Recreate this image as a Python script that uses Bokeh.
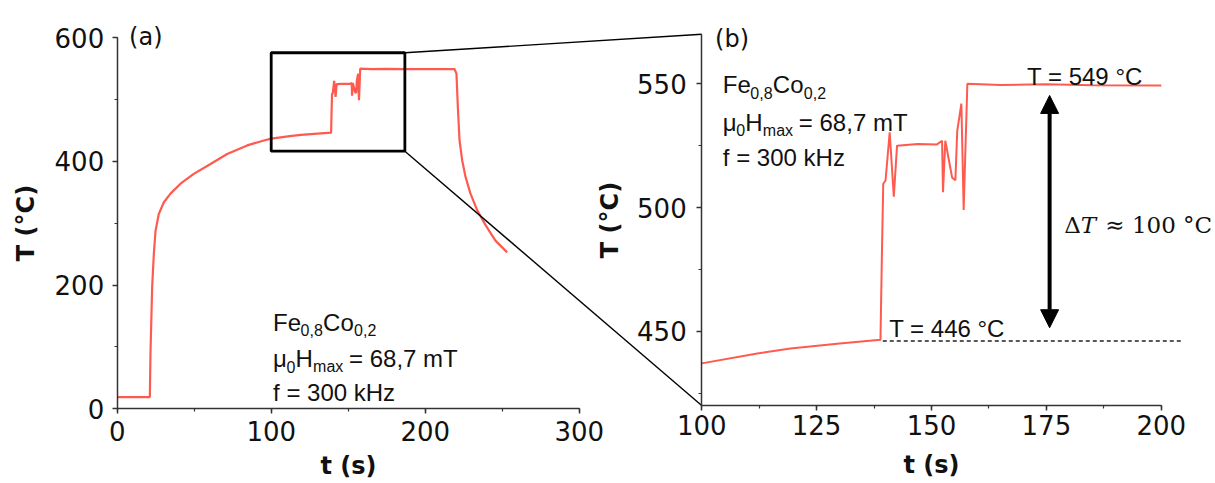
from bokeh.plotting import figure
from bokeh.models import Range1d, LinearAxis, SingleIntervalTicker, Arrow, NormalHead
from bokeh.core.properties import value
from bokeh.embed import file_html
from bokeh.resources import INLINE

# ---------------- data ----------------
time_s = [0, 21.2, 21.6, 22.7, 23.8, 24.9, 27.0, 30.3, 34.6, 41.1, 49.7, 60.6, 71.4, 84.4, 95.2,
          100, 112.1, 119.3, 130, 138.9, 139.2, 139.5, 140.0, 140.9, 141.8, 142.5, 147, 151.2,
          152.3, 152.5, 153.0, 153.8, 154.5, 155.2, 155.6, 156.5, 157.0, 157.8, 165, 175, 185, 200,
          219, 220.3, 221.2, 222.3, 224.0, 226.2, 229.4, 233.8, 239.2, 245.6, 253.2]
temp_c = [19, 19, 89, 197, 251, 288, 315, 334, 348, 364, 380, 396, 412, 426, 434,
          437, 441, 443, 445, 446.5, 480, 509.6, 510.9, 530.4, 504.4, 525, 525.7, 525.5,
          527, 506.2, 527, 519, 512, 511, 531, 542, 499, 550, 549.5, 549.8, 549.4, 549.3,
          549.5, 542, 488, 434, 402, 375, 348, 321, 297, 272, 253]
zoom_window = [100, 200]          # time window shown in panel (b)
t_low, t_high = 446, 549          # annotated temperatures
delta_label = 100                 # annotated temperature rise
x_ticks_a, y_ticks_a = 100, 200   # major tick steps, panel (a)
x_ticks_b, y_ticks_b = 25, 50     # major tick steps, panel (b)

# ---------------- styling / geometry ----------------
W, H = 1215, 483
RED = "#ff5a4f"
INK = "#111111"
AXC = "#333333"
SANS = "Liberation Sans"
WIDE = "DejaVu Sans"


def mapping(p0, v0, p1, v1):
    k = (v1 - v0) / (p1 - p0)
    return (lambda px: v0 + (px - p0) * k), (lambda v: p0 + (v - v0) / k)


ax_v, ax_p = mapping(116.7, 0, 578.7, 300)
ay_v, ay_p = mapping(408.3, 0, 37.3, 600)
bx_v, bx_p = mapping(701.2, 100, 1160.8, 200)
by_v, by_p = mapping(330.7, 450, 83.3, 550)

p = figure(width=W, height=H, title=None,
           x_range=Range1d(ax_v(0), ax_v(W)), y_range=Range1d(ay_v(H), ay_v(0)),
           x_axis_type=None, y_axis_type=None, toolbar_location=None,
           output_backend="svg", min_border=0, outline_line_color=None,
           background_fill_color="white", border_fill_color="white")
p.extra_x_ranges = {"b": Range1d(bx_v(0), bx_v(W))}
p.extra_y_ranges = {"b": Range1d(by_v(H), by_v(0))}


def add_axis(side, rn, loc, bounds, step, label, tick_stand, lab_stand):
    ax = LinearAxis(x_range_name=rn, y_range_name=rn, fixed_location=loc, bounds=bounds,
                    ticker=SingleIntervalTicker(interval=step, num_minor_ticks=2),
                    axis_label=label)
    ax.axis_line_color = AXC
    ax.axis_line_width = 1.5
    ax.major_tick_line_color = AXC
    ax.major_tick_line_width = 1.5
    ax.major_tick_in = 0
    ax.major_tick_out = 5
    ax.minor_tick_line_color = AXC
    ax.minor_tick_line_width = 1.2
    ax.minor_tick_in = 0
    ax.minor_tick_out = 3
    ax.major_label_text_font = WIDE
    ax.major_label_text_font_size = "26px"
    ax.major_label_text_color = INK
    ax.major_label_standoff = tick_stand
    ax.axis_label_text_font = WIDE
    ax.axis_label_text_font_size = "24px"
    ax.axis_label_text_font_style = "bold"
    ax.axis_label_text_color = INK
    ax.axis_label_standoff = lab_stand
    p.add_layout(ax, side)


# panel (a) axes
add_axis("below", "default", 0, (0, 300), x_ticks_a, "t (s)", 7, 8)
add_axis("left", "default", 0, (0, 600), y_ticks_a, "T (°C)", 8, 12)
# panel (b) axes
add_axis("below", "b", 420, (zoom_window[0], zoom_window[1]), x_ticks_b, "t (s)", 5, 12)
add_axis("left", "b", zoom_window[0], (420, 570), y_ticks_b, "T (°C)", 10, 10)

# ---------------- curves ----------------
p.line(time_s, temp_c, line_color=RED, line_width=2.2)
tb = [t for t in time_s if zoom_window[0] <= t <= zoom_window[1]]
Tb = [T for t, T in zip(time_s, temp_c) if zoom_window[0] <= t <= zoom_window[1]]
p.line(tb, Tb, line_color=RED, line_width=2, x_range_name="b", y_range_name="b")

# ---------------- zoom box and connectors ----------------
box_l, box_r, box_b, box_t = 100, 186.8, 416.6, 575.8
p.quad(left=[box_l], right=[box_r], bottom=[box_b], top=[box_t],
       fill_color=None, line_color="black", line_width=2.8)
for yb, ya in ((570, box_t), (420, box_b)):
    cx = ax_v(bx_p(zoom_window[0]))
    cy = ay_v(by_p(yb))
    p.line([box_r, cx], [ya, cy], line_color="black", line_width=1.4)


# ---------------- annotations ----------------
def txt(x, y, s, size=24, dx=0, dy=0, rn="default", font=SANS, style="normal"):
    p.text(x=[x], y=[y], text=[s], x_offset=dx, y_offset=dy,
           text_font=value(font), text_font_size=f"{size}px", text_font_style=style,
           text_color=INK, text_baseline="alphabetic", text_align="left",
           x_range_name=rn, y_range_name=rn)


def block(x, ys, rn):
    y1, y2, y3 = ys
    txt(x, y1, "Fe", rn=rn)
    txt(x, y1, "0,8", size=16, dx=27.5, dy=8, rn=rn)
    txt(x, y1, "Co", dx=50, rn=rn)
    txt(x, y1, "0,2", size=16, dx=81, dy=8, rn=rn)
    txt(x, y2, "μ", rn=rn)
    txt(x, y2, "0", size=16, dx=13.5, dy=8, rn=rn)
    txt(x, y2, "H", dx=22.5, rn=rn)
    txt(x, y2, "max", size=16, dx=40, dy=8, rn=rn)
    txt(x, y2, "= 68,7 mT", dx=76, rn=rn)
    txt(x, y3, "f = 300 kHz", rn=rn)


block(101.2, (140, 80.9, 26.8), "default")
block(104.6, (549.7, 534.5, 520.3), "b")

txt(7.7, 601, "(a)", size=24, font=WIDE)
txt(102.9, 568.2, "(b)", size=24, rn="b", font=WIDE)

txt(170.8, 553, f"T = {t_high} °C", rn="b")
txt(140.8, 451, f"T = {t_low} °C", rn="b")
p.line([139.4, 204.8], [t_low, t_low], line_color="#222222", line_width=1.5,
       line_dash="4 3", x_range_name="b", y_range_name="b")

arrow_x = 175.7
p.add_layout(Arrow(start=NormalHead(size=18, fill_color="black", line_color="black"),
                   end=NormalHead(size=18, fill_color="black", line_color="black"),
                   x_start=arrow_x, y_start=451.4, x_end=arrow_x, y_end=545.3,
                   line_width=4, line_color="black",
                   x_range_name="b", y_range_name="b"))

txt(178.9, 493, "Δ", size=23, rn="b", font="DejaVu Serif")
txt(178.9, 493, "T", size=23, dx=16.5, rn="b", font="DejaVu Serif", style="italic")
txt(178.9, 493, f"≈ {delta_label} °C", size=23, dx=41, rn="b", font="DejaVu Serif")

open("out.html", "w").write(file_html(p, INLINE))
